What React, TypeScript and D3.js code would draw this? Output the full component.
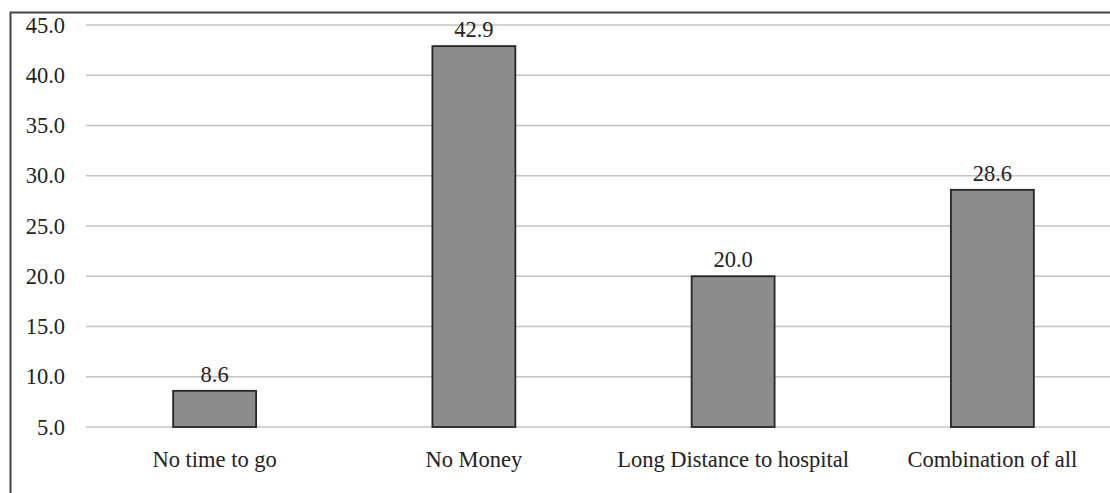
import * as d3 from 'd3'
import React, { useEffect, useRef } from "react";

const categories = ["No time to go", "No Money", "Long Distance to hospital", "Combination of all"];
const values = [8.6, 42.9, 20.0, 28.6];
const yTicks = [5, 10, 15, 20, 25, 30, 35, 40, 45];

const App: React.FC = () => {
    const ref = useRef<SVGSVGElement>(null);

    useEffect(() => {
        if (!ref.current) return;
        const width = 1110;
        const height = 493;
        const svg = d3.select(ref.current)
            .attr('width', width)
            .attr('height', height);
        svg.selectAll('*').remove();

        const font = "'Liberation Serif', 'Times New Roman', Times, serif";

        // frame (only left and top edges are visible in the crop)
        svg.append('rect')
            .attr('x', 10.5).attr('y', 12.5)
            .attr('width', 1200).attr('height', 600)
            .attr('fill', '#fefefe')
            .attr('stroke', '#444').attr('stroke-width', 2);

        const x = d3.scaleBand<string>()
            .domain(categories)
            .range([85, 1122])
            .paddingInner(0.68)
            .paddingOuter(0.34);
        const y = d3.scaleLinear().domain([5, 45]).range([427, 25]);

        const g = svg.append('g').style('font-family', font).style('font-size', '22.5px');

        g.selectAll('line.grid')
            .data(yTicks)
            .enter().append('line')
            .attr('class', 'grid')
            .attr('x1', 86).attr('x2', width)
            .attr('y1', d => y(d)).attr('y2', d => y(d))
            .attr('stroke', '#c4c4c4').attr('stroke-width', 1.5);

        g.selectAll('text.ytick')
            .data(yTicks)
            .enter().append('text')
            .attr('class', 'ytick')
            .attr('x', 65).attr('y', d => y(d))
            .attr('dy', '0.34em')
            .attr('text-anchor', 'end')
            .attr('fill', '#222')
            .text(d => d3.format('.1f')(d));

        g.selectAll('rect.bar')
            .data(values)
            .enter().append('rect')
            .attr('class', 'bar')
            .attr('x', (_, i) => x(categories[i])!)
            .attr('width', x.bandwidth())
            .attr('y', d => y(d))
            .attr('height', d => y(5) - y(d))
            .attr('fill', '#8c8c8c')
            .attr('stroke', '#262626').attr('stroke-width', 1.8);

        g.selectAll('text.val')
            .data(values)
            .enter().append('text')
            .attr('class', 'val')
            .attr('x', (_, i) => x(categories[i])! + x.bandwidth() / 2)
            .attr('y', d => y(d) - 9)
            .attr('text-anchor', 'middle')
            .attr('fill', '#222')
            .text(d => d3.format('.1f')(d));

        g.selectAll('text.cat')
            .data(categories)
            .enter().append('text')
            .attr('class', 'cat')
            .attr('x', d => x(d)! + x.bandwidth() / 2)
            .attr('y', 467)
            .attr('text-anchor', 'middle')
            .attr('fill', '#222')
            .text(d => d);
    }, []);

    return (<svg ref={ref} style={{ position: 'absolute', left: 0, top: 0, background: '#fff' }}></svg>);
}

export default App;
